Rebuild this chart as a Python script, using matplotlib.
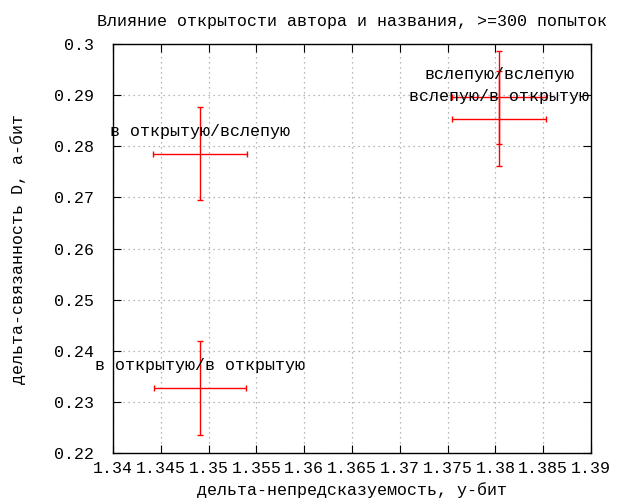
import matplotlib
matplotlib.use("Agg")
import matplotlib.pyplot as plt
import numpy as np

plt.rcParams['font.family'] = ['Liberation Mono', 'DejaVu Sans Mono']

# data
names = ["в открытую/вслепую", "в открытую/в открытую",
         "вслепую/вслепую", "вслепую/в открытую"]
unpred = [1.3491, 1.3491, 1.3804, 1.3804]      # x, у-бит
unpred_err = [0.0049, 0.0048, 0.0049, 0.0049]
coher = [0.2785, 0.2327, 0.2896, 0.2854]       # y, а-бит
coher_err = [0.0091, 0.0092, 0.0091, 0.0093]

xticks = np.arange(1.34, 1.3901, 0.005)
yticks = np.arange(0.22, 0.3001, 0.01)

fs = 12

fig = plt.figure(figsize=(6.25, 5), dpi=100)
ax = fig.add_axes([113 / 625, 1 - 453 / 500, 478 / 625, 409 / 500])

ax.errorbar(unpred, coher, xerr=unpred_err, yerr=coher_err, fmt='none',
            ecolor='red', elinewidth=1, capsize=2, capthick=1)

for n, x, y in zip(names, unpred, coher):
    ax.annotate(n, (x, y), xytext=(0, 16), textcoords='offset points',
                ha='center', va='center', fontsize=fs, annotation_clip=False)

ax.set_xlim(1.34, 1.39)
ax.set_ylim(0.22, 0.30)
ax.set_xticks(xticks)
ax.set_xticklabels(["%g" % round(v, 3) for v in xticks])
ax.set_yticks(yticks)
ax.set_yticklabels(["%g" % round(v, 2) for v in yticks])
ax.tick_params(direction='in', length=6, top=True, right=True,
               labelsize=fs, pad=6)
ax.tick_params(axis='y', pad=14)

ax.grid(True, color='#a0a0a0', linestyle=(0, (1, 3)), linewidth=0.9)
for s in ax.spines.values():
    s.set_linewidth(1)

ax.set_title("Влияние открытости автора и названия, >=300 попыток",
             fontsize=fs, pad=13)
ax.set_xlabel("дельта-непредсказуемость, у-бит", fontsize=fs, labelpad=4)
ax.set_ylabel("дельта-связанность D, а-бит", fontsize=fs, labelpad=20)

fig.savefig("out.png", dpi=100)
